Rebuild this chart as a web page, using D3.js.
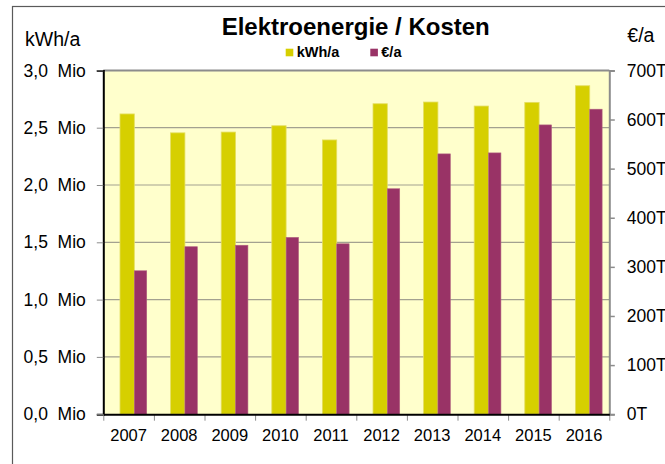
<!DOCTYPE html>
<html>
<head>
<meta charset="utf-8">
<script src="https://cdn.jsdelivr.net/npm/d3@7"></script>
<style>
  body { margin: 0; background: #fff; }
  svg { display: block; font-family: "Liberation Sans", Arial, sans-serif; }
</style>
</head>
<body>
<svg id="chart" width="665" height="464"></svg>
<script>
// data
var years = [2007, 2008, 2009, 2010, 2011, 2012, 2013, 2014, 2015, 2016];
var kwhPerYear = [2620000, 2455000, 2462000, 2517000, 2393000, 2709000, 2724000, 2689000, 2721000, 2866000];
var euroPerYear = [292000, 341000, 344000, 360000, 347000, 459000, 530000, 532000, 589000, 621000];
var seriesNames = ["kWh/a", "€/a"];
var seriesColors = ["#d6cf00", "#993366"];
var leftTicks = [0, 500000, 1000000, 1500000, 2000000, 2500000, 3000000];
var rightTicks = [0, 100000, 200000, 300000, 400000, 500000, 600000, 700000];

// note: "top" is a reserved window property, so plot edges get their own names
var plotLeft = 103.3, plotRight = 609.3, plotTop = 70.4, plotBottom = 414.2;

var svg = d3.select("#chart");

// outer frame (runs off the right / bottom edge like the screenshot)
svg.append("rect")
    .attr("x", 12.5).attr("y", 6.5)
    .attr("width", 700).attr("height", 500)
    .attr("fill", "none")
    .attr("stroke", "#5a5a5a")
    .attr("stroke-width", 1.2);

var x = d3.scaleBand().domain(years).range([plotLeft, plotRight]).padding(0);
var xEdges = d3.scaleLinear().domain([0, years.length]).range([plotLeft, plotRight]);
var yLeft = d3.scaleLinear().domain([0, 3000000]).range([plotBottom, plotTop]);
var yRight = d3.scaleLinear().domain([0, 700000]).range([plotBottom, plotTop]);

// plot background
svg.append("rect")
    .attr("x", plotLeft).attr("y", plotTop)
    .attr("width", plotRight - plotLeft).attr("height", plotBottom - plotTop)
    .attr("fill", "#ffffcc");

// grid
svg.append("g").selectAll("line")
  .data(leftTicks.slice(1, -1))
  .join("line")
    .attr("x1", plotLeft).attr("x2", plotRight)
    .attr("y1", d => yLeft(d)).attr("y2", d => yLeft(d))
    .attr("stroke", "#a3a190")
    .attr("stroke-width", 1.2);

// plot top border
svg.append("line")
    .attr("x1", plotLeft).attr("x2", plotRight)
    .attr("y1", plotTop).attr("y2", plotTop)
    .attr("stroke", "#8c8c8c")
    .attr("stroke-width", 2);

var bw = x.bandwidth();

svg.append("g").selectAll("rect")
  .data(years)
  .join("rect")
    .attr("x", d => x(d) + bw * 0.33)
    .attr("width", bw * 0.283)
    .attr("y", (d, i) => yLeft(kwhPerYear[i]))
    .attr("height", (d, i) => plotBottom - yLeft(kwhPerYear[i]))
    .attr("fill", seriesColors[0])
    .attr("stroke", "#e4de60")
    .attr("stroke-width", 0.8);

svg.append("g").selectAll("rect")
  .data(years)
  .join("rect")
    .attr("x", d => x(d) + bw * 0.613)
    .attr("width", bw * 0.245)
    .attr("y", (d, i) => yRight(euroPerYear[i]))
    .attr("height", (d, i) => plotBottom - yRight(euroPerYear[i]))
    .attr("fill", seriesColors[1])
    .attr("stroke", "#b0607f")
    .attr("stroke-width", 0.6);

// axes
var leftAxis = svg.append("g")
    .attr("transform", `translate(${plotLeft},0)`)
    .call(d3.axisLeft(yLeft)
      .tickValues(leftTicks)
      .tickSize(6.5)
      .tickPadding(11)
      .tickFormat(d => (d / 1e6).toFixed(1).replace(".", ",") + "\u00a0 Mio"));

var rightAxis = svg.append("g")
    .attr("transform", `translate(${plotRight},0)`)
    .call(d3.axisRight(yRight)
      .tickValues(rightTicks)
      .tickSize(5.5)
      .tickPadding(12)
      .tickFormat(d => (d / 1000) + "T"));

var edgeAxis = svg.append("g")
    .attr("transform", `translate(0,${plotBottom})`)
    .call(d3.axisBottom(xEdges).ticks(years.length).tickSize(6.5).tickFormat(""));

var labelAxis = svg.append("g")
    .attr("transform", `translate(0,${plotBottom})`)
    .call(d3.axisBottom(x).tickSize(0).tickPadding(15));

leftAxis.select(".domain").attr("stroke", "#000").attr("stroke-width", 2);
leftAxis.selectAll(".tick line").attr("stroke", "#8c8c8c");
rightAxis.select(".domain").attr("stroke", "#8c8c8c").attr("stroke-width", 2);
rightAxis.selectAll(".tick line").attr("stroke", "#8c8c8c").attr("stroke-width", 1.5);
edgeAxis.select(".domain").remove();
edgeAxis.selectAll(".tick line").attr("stroke", "#8c8c8c");
labelAxis.select(".domain").attr("stroke", "#000").attr("stroke-width", 2);

svg.selectAll(".tick text")
    .attr("font-family", '"Liberation Sans", Arial, sans-serif')
    .attr("fill", "#000");
leftAxis.selectAll(".tick text").attr("font-size", 17.5);
rightAxis.selectAll(".tick text").attr("font-size", 17.5);
labelAxis.selectAll(".tick text").attr("font-size", 16.5);

// axis titles
svg.append("text")
    .attr("x", 25).attr("y", 45.7)
    .attr("font-size", 19.5)
    .text("kWh/a");
svg.append("text")
    .attr("x", 627.3).attr("y", 41.7)
    .attr("font-size", 19.5)
    .text("€/a");

// title
svg.append("text")
    .attr("x", 355.7).attr("y", 35)
    .attr("text-anchor", "middle")
    .attr("font-size", 24)
    .attr("font-weight", "bold")
    .text("Elektroenergie / Kosten");

// legend
var legendX = [285.7, 370.3];
var legend = svg.append("g").selectAll("g")
  .data(seriesNames)
  .join("g")
    .attr("transform", (d, i) => `translate(${legendX[i]},48.7)`);
legend.append("rect")
    .attr("width", 7.6).attr("height", 7.6)
    .attr("fill", (d, i) => seriesColors[i]);
legend.append("text")
    .attr("x", 11).attr("y", 8)
    .attr("font-size", 14.5)
    .attr("font-weight", "bold")
    .text(d => d);
</script>
</body>
</html>
